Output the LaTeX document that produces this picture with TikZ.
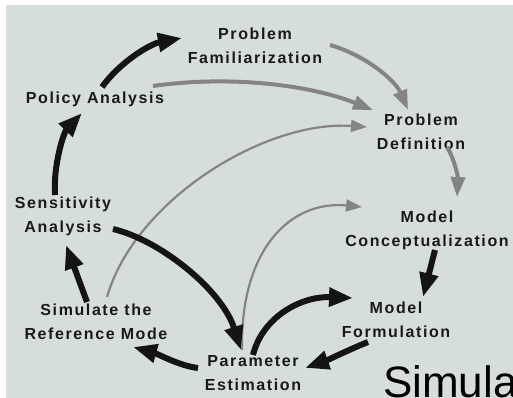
\documentclass[tikz,border=0pt]{standalone}
\usepackage{fontspec}
\setmainfont{Liberation Sans}
\newfontfamily\labfont[LetterSpace=10]{Liberation Sans}
\usetikzlibrary{arrows.meta,calc}
\definecolor{bg}{RGB}{214,222,220}
\definecolor{txt}{RGB}{25,25,25}
\definecolor{gar}{RGB}{132,132,132}
\begin{document}
\begin{tikzpicture}[x=1pt,y=-1pt,
  lab/.style={font=\labfont\bfseries\fontsize{16}{24}\selectfont, text=txt, align=center, inner sep=0pt},
  blk/.style={draw=black!92, line width=6pt, -{Triangle[length=24pt,width=18pt]}},
  gry/.style={draw=gar, line width=4pt, -{Triangle[length=20pt,width=14pt]}},
  gryt/.style={draw=gar, line width=2.2pt, -{Triangle[length=16pt,width=12pt]}}]
\fill[white] (0,0) rectangle (513,398);
\fill[bg] (6,5) rectangle (513,398);
\useasboundingbox (0,0) rectangle (513,398);

\node[lab] (pf) at (255,45.5) {Problem\\Familiarization};
\node[lab] (pa) at (95,99) {Policy Analysis};
\node[lab] (pd) at (421,132) {Problem\\Definition};
\node[lab] (sa) at (63,216) {Sensitivity\\Analysis};
\node[lab] (mc) at (427,230) {Model\\Conceptualization};
\node[lab] (sr) at (96,322) {Simulate the\\Reference Mode};
\node[lab] (mf) at (396,320) {Model\\Formulation};
\node[lab] (pe) at (253,373) {Parameter\\Estimation};
\node[font=\fontsize{44}{44}\selectfont, anchor=base west, inner sep=0pt] (sim) at (383,397) {Simula};

% gray arrows
\draw[gry] ($(pf)+(75,-0.5)$) .. controls (365,55) and (395,80) .. ($(pd)+(-13,-22)$);
\draw[gry] ($(pa)+(58,-13)$) .. controls (230,75) and (310,85) .. ($(pd)+(-48,-22)$);
\draw[gry] ($(pd)+(26,15)$) .. controls (455,160) and (458,178) .. ($(mc)+(30,-33)$);
\draw[gryt] ($(sr)+(11,-25)$) .. controls (135,200) and (265,120) .. ($(pd)+(-54,-5)$);
\draw[gryt] ($(pe)+(-11,-23)$) .. controls (240,250) and (290,200) .. ($(mc)+(-65,-23)$);

% black arrows
\draw[blk] ($(pa)+(7,-12)$) .. controls (120,62) and (150,44) .. ($(pf)+(-73,-7.5)$);
\draw[blk] ($(sa)+(-8,-21)$) .. controls (53,165) and (64,132) .. ($(pa)+(-13,14)$);
\draw[blk] ($(sr)+(-9,-20)$) -- ($(sa)+(3,29)$);
\draw[blk] ($(pe)+(-55,-5)$) .. controls (180,366) and (158,354) .. ($(sr)+(37,25)$);
\draw[blk] ($(sa)+(50,13)$) .. controls (160,240) and (222,290) .. ($(pe)+(-12,-23)$);
\draw[blk] ($(pe)+(0,-18)$) .. controls (262,318) and (300,296) .. ($(mf)+(-43,-22)$);
\draw[blk] ($(mf)+(-28,22)$) .. controls (348,350) and (328,360) .. ($(pe)+(52,-5)$);
\draw[blk] ($(mc)+(8,20)$) -- ($(mf)+(27,-23)$);
\end{tikzpicture}
\end{document}
